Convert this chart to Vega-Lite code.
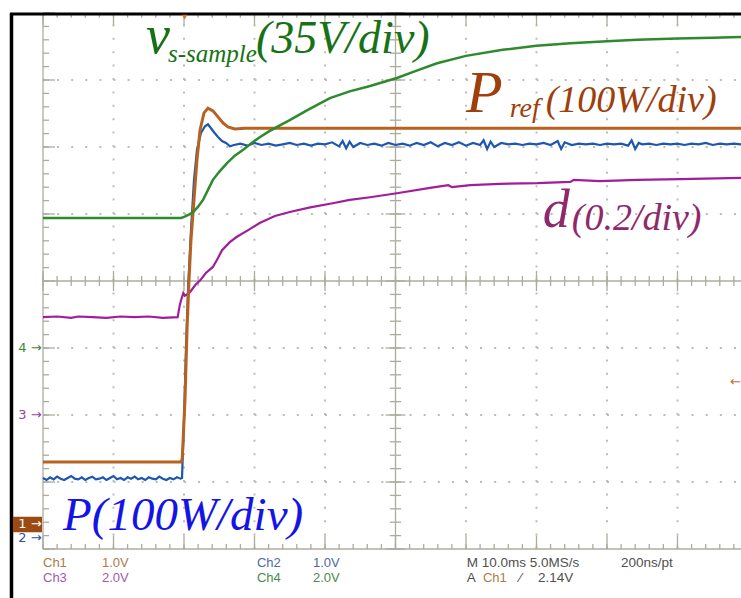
{
  "$schema": "https://vega.github.io/schema/vega-lite/v6.json",
  "width": 741,
  "height": 598,
  "autosize": {"type": "none"},
  "padding": 0,
  "background": "white",
  "config": {"view": {"stroke": null}, "axis": {"disable": true, "labels": false, "ticks": false, "domain": false, "grid": false}},
  "datasets": {
    "xt": [{"t":0},{"t":2},{"t":4},{"t":6},{"t":8},{"t":10},{"t":12},{"t":14},{"t":16},{"t":18},{"t":20},{"t":22},{"t":24},{"t":26},{"t":28},{"t":30},{"t":32},{"t":34},{"t":36},{"t":38},{"t":40},{"t":42},{"t":44},{"t":46},{"t":48},{"t":50},{"t":52},{"t":54},{"t":56},{"t":58},{"t":60},{"t":62},{"t":64},{"t":66},{"t":68},{"t":70},{"t":72},{"t":74},{"t":76},{"t":78},{"t":80},{"t":82},{"t":84},{"t":86},{"t":88},{"t":90},{"t":92},{"t":94},{"t":96},{"t":98}],
    "xmaj": [{"t":0},{"t":10},{"t":20},{"t":30},{"t":40},{"t":50},{"t":60},{"t":70},{"t":80},{"t":90}],
    "yt": [{"d":0},{"d":0.2},{"d":0.4},{"d":0.6},{"d":0.8},{"d":1},{"d":1.2},{"d":1.4},{"d":1.6},{"d":1.8},{"d":2},{"d":2.2},{"d":2.4},{"d":2.6},{"d":2.8},{"d":3},{"d":3.2},{"d":3.4},{"d":3.6},{"d":3.8},{"d":4},{"d":4.2},{"d":4.4},{"d":4.6},{"d":4.8},{"d":5},{"d":5.2},{"d":5.4},{"d":5.6},{"d":5.8},{"d":6},{"d":6.2},{"d":6.4},{"d":6.6},{"d":6.8},{"d":7},{"d":7.2},{"d":7.4},{"d":7.6},{"d":7.8},{"d":8}],
    "ymaj": [{"d":0},{"d":1},{"d":2},{"d":3},{"d":4},{"d":5},{"d":6},{"d":7},{"d":8}],
    "green": [{"t":0,"d":4.94},{"t":10,"d":4.94},{"t":19.6,"d":4.94},{"t":20.1,"d":4.96},{"t":20.7,"d":4.99},{"t":21.3,"d":5.03},{"t":22.0,"d":5.11},{"t":22.7,"d":5.21},{"t":23.4,"d":5.36},{"t":24.1,"d":5.51},{"t":25.0,"d":5.63},{"t":26.1,"d":5.76},{"t":27.2,"d":5.87},{"t":28.4,"d":5.96},{"t":29.6,"d":6.06},{"t":30.8,"d":6.15},{"t":32.0,"d":6.23},{"t":33.2,"d":6.30},{"t":35.0,"d":6.40},{"t":37.5,"d":6.55},{"t":40.7,"d":6.73},{"t":43.5,"d":6.83},{"t":46.4,"d":6.91},{"t":50.2,"d":7.03},{"t":53,"d":7.14},{"t":55.9,"d":7.25},{"t":60,"d":7.36},{"t":65.2,"d":7.45},{"t":70,"d":7.51},{"t":74.8,"d":7.55},{"t":80,"d":7.58},{"t":84.3,"d":7.60},{"t":90,"d":7.62},{"t":95,"d":7.63},{"t":99.01,"d":7.64}],
    "orange": [{"t":0,"d":1.30},{"t":19.6,"d":1.30},{"t":19.75,"d":1.35},{"t":20.14,"d":2.22},{"t":20.43,"d":3.27},{"t":20.71,"d":4.01},{"t":20.99,"d":4.61},{"t":21.42,"d":5.21},{"t":21.84,"d":5.81},{"t":22.27,"d":6.25},{"t":22.84,"d":6.51},{"t":23.4,"d":6.58},{"t":24.11,"d":6.54},{"t":24.82,"d":6.45},{"t":25.53,"d":6.36},{"t":26.24,"d":6.30},{"t":27.23,"d":6.27},{"t":28.65,"d":6.28},{"t":99.01,"d":6.28}],
    "blue": [{"t":0,"d":1.06},{"t":0.5,"d":1.03},{"t":1,"d":1.07},{"t":1.5,"d":1.04},{"t":2,"d":1.08},{"t":2.5,"d":1.05},{"t":3,"d":1.03},{"t":3.5,"d":1.06},{"t":4,"d":1.09},{"t":4.5,"d":1.05},{"t":5,"d":1.04},{"t":5.5,"d":1.07},{"t":6,"d":1.03},{"t":6.5,"d":1.06},{"t":7,"d":1.08},{"t":7.5,"d":1.04},{"t":8,"d":1.05},{"t":8.5,"d":1.07},{"t":9,"d":1.03},{"t":9.5,"d":1.06},{"t":10,"d":1.09},{"t":10.5,"d":1.04},{"t":11,"d":1.06},{"t":11.5,"d":1.03},{"t":12,"d":1.07},{"t":12.5,"d":1.05},{"t":13,"d":1.08},{"t":13.5,"d":1.04},{"t":14,"d":1.06},{"t":14.5,"d":1.03},{"t":15,"d":1.07},{"t":15.5,"d":1.05},{"t":16,"d":1.04},{"t":16.5,"d":1.08},{"t":17,"d":1.05},{"t":17.5,"d":1.03},{"t":18,"d":1.06},{"t":18.5,"d":1.04},{"t":19,"d":1.07},{"t":19.5,"d":1.05},{"t":19.72,"d":1.06},{"t":20.0,"d":1.93},{"t":20.28,"d":2.97},{"t":20.57,"d":3.87},{"t":20.99,"d":4.76},{"t":21.42,"d":5.51},{"t":21.84,"d":5.96},{"t":22.41,"d":6.21},{"t":22.98,"d":6.31},{"t":23.4,"d":6.34},{"t":23.83,"d":6.28},{"t":24.26,"d":6.22},{"t":24.82,"d":6.15},{"t":25.39,"d":6.09},{"t":25.96,"d":6.06},{"t":26.52,"d":6.01},{"t":27.09,"d":6.03},{"t":28,"d":6.05},{"t":29,"d":6.02},{"t":30,"d":6.06},{"t":31,"d":6.03},{"t":32,"d":6.05},{"t":33,"d":6.02},{"t":34,"d":6.04},{"t":35,"d":6.06},{"t":36,"d":6.03},{"t":37,"d":6.05},{"t":38,"d":6.02},{"t":39,"d":6.05},{"t":40,"d":6.04},{"t":41,"d":6.07},{"t":42,"d":6.01},{"t":42.5,"d":6.09},{"t":43,"d":5.98},{"t":43.5,"d":6.08},{"t":44,"d":6.00},{"t":45,"d":6.06},{"t":46,"d":6.03},{"t":47,"d":6.05},{"t":48,"d":6.02},{"t":49,"d":6.06},{"t":50,"d":6.03},{"t":51,"d":6.05},{"t":52,"d":6.02},{"t":53,"d":6.06},{"t":54,"d":6.03},{"t":55,"d":6.07},{"t":56,"d":6.01},{"t":57,"d":6.06},{"t":58,"d":6.03},{"t":59,"d":6.07},{"t":60,"d":6.02},{"t":61,"d":6.06},{"t":62,"d":6.03},{"t":62.5,"d":6.10},{"t":63,"d":5.97},{"t":63.5,"d":6.08},{"t":64,"d":6.00},{"t":65,"d":6.06},{"t":66,"d":6.04},{"t":67,"d":6.05},{"t":68,"d":6.03},{"t":69,"d":6.05},{"t":70,"d":6.04},{"t":71,"d":6.06},{"t":72,"d":6.03},{"t":73,"d":6.09},{"t":73.5,"d":5.97},{"t":74,"d":6.07},{"t":75,"d":6.03},{"t":76,"d":6.05},{"t":77,"d":6.04},{"t":78,"d":6.05},{"t":79,"d":6.03},{"t":80,"d":6.05},{"t":81,"d":6.04},{"t":82,"d":6.05},{"t":83,"d":6.02},{"t":83.5,"d":6.10},{"t":84,"d":5.97},{"t":84.5,"d":6.06},{"t":85,"d":6.04},{"t":86,"d":6.05},{"t":87,"d":6.03},{"t":88,"d":6.05},{"t":89,"d":6.04},{"t":90,"d":6.05},{"t":91,"d":6.03},{"t":92,"d":6.05},{"t":93,"d":6.04},{"t":94,"d":6.06},{"t":95,"d":6.03},{"t":96,"d":6.05},{"t":97,"d":6.04},{"t":98,"d":6.05},{"t":99.01,"d":6.04}],
    "purple": [{"t":0,"d":3.46},{"t":2,"d":3.47},{"t":4,"d":3.45},{"t":5,"d":3.47},{"t":7,"d":3.46},{"t":9,"d":3.45},{"t":11,"d":3.47},{"t":13,"d":3.46},{"t":15,"d":3.47},{"t":17,"d":3.45},{"t":19.1,"d":3.46},{"t":19.4,"d":3.64},{"t":19.6,"d":3.72},{"t":19.9,"d":3.82},{"t":20.1,"d":3.78},{"t":20.6,"d":3.81},{"t":20.9,"d":3.84},{"t":21.6,"d":3.94},{"t":22.3,"d":4.01},{"t":23.1,"d":4.12},{"t":24.1,"d":4.21},{"t":24.8,"d":4.34},{"t":25.4,"d":4.46},{"t":26.5,"d":4.58},{"t":27.5,"d":4.66},{"t":29.1,"d":4.76},{"t":30.8,"d":4.87},{"t":32.9,"d":4.97},{"t":35.0,"d":5.03},{"t":37.9,"d":5.10},{"t":41.1,"d":5.16},{"t":43.5,"d":5.21},{"t":46.4,"d":5.25},{"t":50.2,"d":5.31},{"t":54.9,"d":5.39},{"t":57.5,"d":5.43},{"t":58,"d":5.40},{"t":60.6,"d":5.43},{"t":64.8,"d":5.45},{"t":70.1,"d":5.46},{"t":74.8,"d":5.48},{"t":75.3,"d":5.51},{"t":79.0,"d":5.49},{"t":84.3,"d":5.51},{"t":90.4,"d":5.52},{"t":99.01,"d":5.54}]
  },
  "layer": [
    {"data": {"values": [{"t":10},{"t":20},{"t":30},{"t":40},{"t":60},{"t":70},{"t":80},{"t":90}]},
     "mark": {"type": "rule", "color": "#bdbdb5", "strokeWidth": 2, "strokeDash": [2, 11.4]},
     "encoding": {"x": {"field": "t", "type": "quantitative", "scale": {"domain": [-6.1, 99.01], "nice": false, "zero": false}, "axis": null},
                  "y": {"datum": 0, "type": "quantitative", "scale": {"domain": [-0.731, 8.194], "nice": false, "zero": false}, "axis": null},
                  "y2": {"datum": 8}}},
    {"data": {"values": [{"d":1},{"d":2},{"d":3},{"d":5},{"d":6},{"d":7}]},
     "mark": {"type": "rule", "color": "#bdbdb5", "strokeWidth": 2, "strokeDash": [2, 12.1]},
     "encoding": {"y": {"field": "d", "type": "quantitative"}, "x": {"datum": 0, "type": "quantitative"}, "x2": {"datum": 99.01}}},
    {"data": {"values": [{"t":0},{"t":50}]},
     "mark": {"type": "rule", "color": "#acac9e", "strokeWidth": 1.3},
     "encoding": {"x": {"field": "t", "type": "quantitative"}, "y": {"datum": 0, "type": "quantitative"}, "y2": {"datum": 8}}},
    {"data": {"values": [{"d":0},{"d":4}]},
     "mark": {"type": "rule", "color": "#acac9e", "strokeWidth": 1.3},
     "encoding": {"y": {"field": "d", "type": "quantitative"}, "x": {"datum": 0, "type": "quantitative"}, "x2": {"datum": 99.01}}},
    {"data": {"name": "xt"}, "mark": {"type": "rule", "color": "#acac9e", "strokeWidth": 1.3},
     "encoding": {"x": {"field": "t", "type": "quantitative"}, "y": {"datum": 3.925, "type": "quantitative"}, "y2": {"datum": 4.075}}},
    {"data": {"name": "xmaj"}, "mark": {"type": "rule", "color": "#acac9e", "strokeWidth": 1.3},
     "encoding": {"x": {"field": "t", "type": "quantitative"}, "y": {"datum": 3.85, "type": "quantitative"}, "y2": {"datum": 4.15}}},
    {"data": {"name": "yt"}, "mark": {"type": "rule", "color": "#acac9e", "strokeWidth": 1.3},
     "encoding": {"y": {"field": "d", "type": "quantitative"}, "x": {"datum": 49.2, "type": "quantitative"}, "x2": {"datum": 50.8}}},
    {"data": {"name": "ymaj"}, "mark": {"type": "rule", "color": "#acac9e", "strokeWidth": 1.3},
     "encoding": {"y": {"field": "d", "type": "quantitative"}, "x": {"datum": 48.6, "type": "quantitative"}, "x2": {"datum": 51.4}}},
    {"data": {"name": "xt"}, "mark": {"type": "rule", "color": "#acac9e", "strokeWidth": 1.3},
     "encoding": {"x": {"field": "t", "type": "quantitative"}, "y": {"datum": 0, "type": "quantitative"}, "y2": {"datum": 0.075}}},
    {"data": {"name": "xmaj"}, "mark": {"type": "rule", "color": "#acac9e", "strokeWidth": 1.3},
     "encoding": {"x": {"field": "t", "type": "quantitative"}, "y": {"datum": 0, "type": "quantitative"}, "y2": {"datum": 0.2}}},
    {"data": {"name": "xt"}, "mark": {"type": "rule", "color": "#acac9e", "strokeWidth": 1.3},
     "encoding": {"x": {"field": "t", "type": "quantitative"}, "y": {"datum": 8, "type": "quantitative"}, "y2": {"datum": 7.93}}},
    {"data": {"name": "xmaj"}, "mark": {"type": "rule", "color": "#acac9e", "strokeWidth": 1.3},
     "encoding": {"x": {"field": "t", "type": "quantitative"}, "y": {"datum": 8, "type": "quantitative"}, "y2": {"datum": 7.82}}},
    {"data": {"name": "yt"}, "mark": {"type": "rule", "color": "#acac9e", "strokeWidth": 1.3},
     "encoding": {"y": {"field": "d", "type": "quantitative"}, "x": {"datum": 0, "type": "quantitative"}, "x2": {"datum": 0.85}}},
    {"data": {"name": "ymaj"}, "mark": {"type": "rule", "color": "#acac9e", "strokeWidth": 1.3},
     "encoding": {"y": {"field": "d", "type": "quantitative"}, "x": {"datum": 0, "type": "quantitative"}, "x2": {"datum": 1.7}}},
    {"data": {"values": [{}]}, "mark": {"type": "rule", "color": "#000000", "strokeWidth": 3.5},
     "encoding": {"x": {"datum": -4.47, "type": "quantitative"}, "y": {"datum": -0.731, "type": "quantitative"}, "y2": {"datum": 7.985}}},
    {"data": {"values": [{}]}, "mark": {"type": "rule", "color": "#000000", "strokeWidth": 3},
     "encoding": {"x": {"datum": -4.7, "type": "quantitative"}, "x2": {"datum": 99.01}, "y": {"datum": 7.985, "type": "quantitative"}}},
    {"data": {"name": "purple"}, "mark": {"type": "line", "color": "#a01e9c", "strokeWidth": 2.2},
     "encoding": {"x": {"field": "t", "type": "quantitative"}, "y": {"field": "d", "type": "quantitative"}}},
    {"data": {"name": "blue"}, "mark": {"type": "line", "color": "#1e56b0", "strokeWidth": 2.2},
     "encoding": {"x": {"field": "t", "type": "quantitative"}, "y": {"field": "d", "type": "quantitative"}}},
    {"data": {"name": "orange"}, "mark": {"type": "line", "color": "#b8621f", "strokeWidth": 3},
     "encoding": {"x": {"field": "t", "type": "quantitative"}, "y": {"field": "d", "type": "quantitative"}}},
    {"data": {"name": "green"}, "mark": {"type": "line", "color": "#2d8a2d", "strokeWidth": 2.5},
     "encoding": {"x": {"field": "t", "type": "quantitative"}, "y": {"field": "d", "type": "quantitative"}}},
    {"data": {"values": [{"t": 20.1, "d": 7.94}]}, "mark": {"type": "point", "shape": "triangle-down", "filled": true, "color": "#e07020", "size": 30, "opacity": 1},
     "encoding": {"x": {"field": "t", "type": "quantitative"}, "y": {"field": "d", "type": "quantitative"}}},
    {"data": {"values": [{"t": 14.6, "d": 7.40, "label": "v"}]},
     "mark": {"type": "text", "font": "Liberation Serif", "fontStyle": "italic", "fontSize": 54, "color": "#177217", "align": "left", "baseline": "alphabetic"},
     "encoding": {"x": {"field": "t", "type": "quantitative"}, "y": {"field": "d", "type": "quantitative"}, "text": {"field": "label"}}},
    {"data": {"values": [{"t": 17.73, "d": 7.27, "label": "s-sample"}]},
     "mark": {"type": "text", "font": "Liberation Serif", "fontStyle": "italic", "fontSize": 25, "color": "#177217", "align": "left", "baseline": "alphabetic"},
     "encoding": {"x": {"field": "t", "type": "quantitative"}, "y": {"field": "d", "type": "quantitative"}, "text": {"field": "label"}}},
    {"data": {"values": [{"t": 30.2, "d": 7.40, "label": "(35V/div)"}]},
     "mark": {"type": "text", "font": "Liberation Serif", "fontStyle": "italic", "fontSize": 46, "color": "#177217", "align": "left", "baseline": "alphabetic"},
     "encoding": {"x": {"field": "t", "type": "quantitative"}, "y": {"field": "d", "type": "quantitative"}, "text": {"field": "label"}}},
    {"data": {"values": [{"t": 60.0, "d": 6.52, "label": "P"}]},
     "mark": {"type": "text", "font": "Liberation Serif", "fontStyle": "italic", "fontSize": 60, "color": "#9e3f0c", "align": "left", "baseline": "alphabetic"},
     "encoding": {"x": {"field": "t", "type": "quantitative"}, "y": {"field": "d", "type": "quantitative"}, "text": {"field": "label"}}},
    {"data": {"values": [{"t": 66.2, "d": 6.45, "label": "ref"}]},
     "mark": {"type": "text", "font": "Liberation Serif", "fontStyle": "italic", "fontSize": 28, "color": "#9e3f0c", "align": "left", "baseline": "alphabetic"},
     "encoding": {"x": {"field": "t", "type": "quantitative"}, "y": {"field": "d", "type": "quantitative"}, "text": {"field": "label"}}},
    {"data": {"values": [{"t": 71.3, "d": 6.52, "label": "(100W/div)"}]},
     "mark": {"type": "text", "font": "Liberation Serif", "fontStyle": "italic", "fontSize": 38, "color": "#9e3f0c", "align": "left", "baseline": "alphabetic"},
     "encoding": {"x": {"field": "t", "type": "quantitative"}, "y": {"field": "d", "type": "quantitative"}, "text": {"field": "label"}}},
    {"data": {"values": [{"t": 70.9, "d": 4.81, "label": "d"}]},
     "mark": {"type": "text", "font": "Liberation Serif", "fontStyle": "italic", "fontSize": 54, "color": "#8e2a6c", "align": "left", "baseline": "alphabetic"},
     "encoding": {"x": {"field": "t", "type": "quantitative"}, "y": {"field": "d", "type": "quantitative"}, "text": {"field": "label"}}},
    {"data": {"values": [{"t": 75.0, "d": 4.76, "label": "(0.2/div)"}]},
     "mark": {"type": "text", "font": "Liberation Serif", "fontStyle": "italic", "fontSize": 38, "color": "#8e2a6c", "align": "left", "baseline": "alphabetic"},
     "encoding": {"x": {"field": "t", "type": "quantitative"}, "y": {"field": "d", "type": "quantitative"}, "text": {"field": "label"}}},
    {"data": {"values": [{"t": 2.84, "d": 0.28, "label": "P(100W/div)"}]},
     "mark": {"type": "text", "font": "Liberation Serif", "fontStyle": "italic", "fontSize": 47, "color": "#1414e6", "align": "left", "baseline": "alphabetic"},
     "encoding": {"x": {"field": "t", "type": "quantitative"}, "y": {"field": "d", "type": "quantitative"}, "text": {"field": "label"}}},
    {"data": {"values": [{}]}, "mark": {"type": "rect", "color": "#9a4a12"},
     "encoding": {"x": {"datum": -4.26, "type": "quantitative"}, "x2": {"datum": -0.14}, "y": {"datum": 0.25, "type": "quantitative"}, "y2": {"datum": 0.48}}},
    {"data": {"values": [{"t": -0.2, "d": 3.0, "label": "4 →"}, {"t": -0.2, "d": 2.0, "label": "3 →"}, {"t": -0.2, "d": 0.37, "label": "1 →"}, {"t": -0.2, "d": 0.16, "label": "2 →"}, {"t": 99.01, "d": 2.49, "label": "←"}]},
     "mark": {"type": "text", "font": "DejaVu Sans", "fontSize": 13, "align": "right", "baseline": "middle"},
     "encoding": {"x": {"field": "t", "type": "quantitative"}, "y": {"field": "d", "type": "quantitative"}, "text": {"field": "label"},
                  "color": {"field": "label", "type": "nominal", "legend": null, "scale": {"domain": ["4 →", "3 →", "1 →", "2 →", "←"], "range": ["#3a8a3a", "#a040a0", "#ffffff", "#3050a0", "#c07030"]}}}},
    {"data": {"values": [{"t": 0, "d": -0.209, "label": "Ch1"}, {"t": 8.37, "d": -0.209, "label": "1.0V"}, {"t": 62.4, "d": -0.433, "label": "Ch1"}]},
     "mark": {"type": "text", "font": "Liberation Sans", "fontSize": 13, "color": "#b07a4a", "align": "left", "baseline": "middle"},
     "encoding": {"x": {"field": "t", "type": "quantitative"}, "y": {"field": "d", "type": "quantitative"}, "text": {"field": "label"}}},
    {"data": {"values": [{"t": 0, "d": -0.433, "label": "Ch3"}, {"t": 8.37, "d": -0.433, "label": "2.0V"}]},
     "mark": {"type": "text", "font": "Liberation Sans", "fontSize": 13, "color": "#a25aa8", "align": "left", "baseline": "middle"},
     "encoding": {"x": {"field": "t", "type": "quantitative"}, "y": {"field": "d", "type": "quantitative"}, "text": {"field": "label"}}},
    {"data": {"values": [{"t": 30.35, "d": -0.209, "label": "Ch2"}, {"t": 38.3, "d": -0.209, "label": "1.0V"}]},
     "mark": {"type": "text", "font": "Liberation Sans", "fontSize": 13, "color": "#4a6aa8", "align": "left", "baseline": "middle"},
     "encoding": {"x": {"field": "t", "type": "quantitative"}, "y": {"field": "d", "type": "quantitative"}, "text": {"field": "label"}}},
    {"data": {"values": [{"t": 30.35, "d": -0.433, "label": "Ch4"}, {"t": 38.3, "d": -0.433, "label": "2.0V"}]},
     "mark": {"type": "text", "font": "Liberation Sans", "fontSize": 13, "color": "#4a8a4a", "align": "left", "baseline": "middle"},
     "encoding": {"x": {"field": "t", "type": "quantitative"}, "y": {"field": "d", "type": "quantitative"}, "text": {"field": "label"}}},
    {"data": {"values": [{"t": 60.1, "d": -0.209, "label": "M 10.0ms 5.0MS/s"}, {"t": 82.0, "d": -0.209, "label": "200ns/pt"}, {"t": 60.1, "d": -0.433, "label": "A"}, {"t": 67.6, "d": -0.433, "label": "⁄"}, {"t": 70.2, "d": -0.433, "label": "2.14V"}]},
     "mark": {"type": "text", "font": "Liberation Sans", "fontSize": 13.5, "color": "#505050", "align": "left", "baseline": "middle"},
     "encoding": {"x": {"field": "t", "type": "quantitative"}, "y": {"field": "d", "type": "quantitative"}, "text": {"field": "label"}}}
  ]
}
